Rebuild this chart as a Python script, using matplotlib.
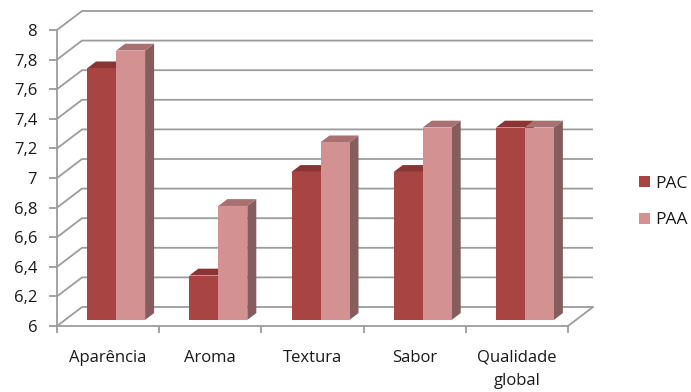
import matplotlib
matplotlib.use("Agg")
import matplotlib.pyplot as plt
from matplotlib.patches import Polygon, Patch
import numpy as np

categories = ["Aparência", "Aroma", "Textura", "Sabor", "Qualidade\nglobal"]
pac = [7.7, 6.3, 7.0, 7.0, 7.3]
paa = [7.82, 6.77, 7.2, 7.3, 7.3]
series_names = ["PAC", "PAA"]
yticks = [6.0, 6.2, 6.4, 6.6, 6.8, 7.0, 7.2, 7.4, 7.6, 7.8, 8.0]
ytick_labels = ["6", "6,2", "6,4", "6,6", "6,8", "7", "7,2", "7,4", "7,6", "7,8", "8"]

FONT = "Open Sans"
W, H = 691, 392
fig = plt.figure(figsize=(W / 100, H / 100), dpi=100)
ax = fig.add_axes([57 / W, 66 / H, (568 - 57) / W, (326 - 30) / H])
ax.set_xlim(-0.5, 4.5)
ax.set_ylim(6, 8)

# depth offsets in data units (full wall depth)
px_x = (4.5 - -0.5) / (568 - 57)
px_y = (8 - 6) / (326 - 30)
DX = 25 * px_x
DY = 19 * px_y

def proj(x, y, d):
    return (x + d * DX, y + d * DY)

grid_c = "#9c9c9c"
lw = 1.3
# wall grid
for yv in yticks:
    p0 = proj(-0.5, yv, 0); p1 = proj(-0.5, yv, 1); p2 = proj(4.5, yv, 1)
    ax.plot([p0[0], p1[0], p2[0]], [p0[1], p1[1], p2[1]], color=grid_c, lw=lw,
            clip_on=False, zorder=1, solid_capstyle="butt")
# floor right edge
p0 = proj(4.5, 6, 0); p1 = proj(4.5, 6, 1)
ax.plot([p0[0], p1[0]], [p0[1], p1[1]], color=grid_c, lw=lw, clip_on=False, zorder=1)

# bars
bw = 29 * px_x
d0, d1 = 0.32, 0.68
cols = {
    "PAC": ("#a84543", "#8a3433", "#7d3a3a"),
    "PAA": ("#d39291", "#a87070", "#855d5d"),
}
for i in range(len(categories)):
    for j, (name, vals) in enumerate(zip(series_names, [pac, paa])):
        front, top, side = cols[name]
        v = vals[i]
        xl = i - bw + j * bw
        xr = xl + bw
        side_poly = [proj(xr, 6, d0), proj(xr, 6, d1), proj(xr, v, d1), proj(xr, v, d0)]
        ax.add_patch(Polygon(side_poly, closed=True, facecolor=side, edgecolor="none",
                             clip_on=False, zorder=2 + j))
        top_poly = [proj(xl, v, d0), proj(xr, v, d0), proj(xr, v, d1), proj(xl, v, d1)]
        ax.add_patch(Polygon(top_poly, closed=True, facecolor=top, edgecolor="none",
                             clip_on=False, zorder=2 + j))
        front_poly = [proj(xl, 6, d0), proj(xr, 6, d0), proj(xr, v, d0), proj(xl, v, d0)]
        ax.add_patch(Polygon(front_poly, closed=True, facecolor=front, edgecolor="none",
                             clip_on=False, zorder=2 + j))

for s in ["top", "right"]:
    ax.spines[s].set_visible(False)
for s in ["left", "bottom"]:
    ax.spines[s].set_color(grid_c)
    ax.spines[s].set_linewidth(lw)
ax.set_facecolor("none")
ax.set_yticks(yticks)
ax.set_yticklabels(ytick_labels, fontsize=12, fontname=FONT, color="#1a1a1a")
ax.tick_params(axis="y", length=5.8, width=lw, color=grid_c, pad=8.5)
ax.set_xticks(np.arange(-0.5, 5, 1))
ax.set_xticklabels([])
ax.tick_params(axis="x", which="major", length=5, width=lw, color=grid_c)
ax.set_xticks(np.arange(len(categories)), minor=True)
ax.set_xticklabels(categories, minor=True, fontsize=12, fontname=FONT, linespacing=1.6,
                   va="top", color="#1a1a1a")
ax.tick_params(axis="x", which="minor", length=0, pad=17)

handles = [Patch(facecolor=cols[n][0], edgecolor="none") for n in series_names]
fig.legend(handles, series_names, loc="center left", bbox_to_anchor=(639 / W, 1 - 202 / H),
           frameon=False, prop={"family": FONT, "size": 12.5}, handlelength=0.63,
           handleheight=0.63, handletextpad=0.3, labelspacing=1.19, borderpad=0,
           borderaxespad=0, labelcolor="#1a1a1a")

fig.savefig("out.png", dpi=100)
